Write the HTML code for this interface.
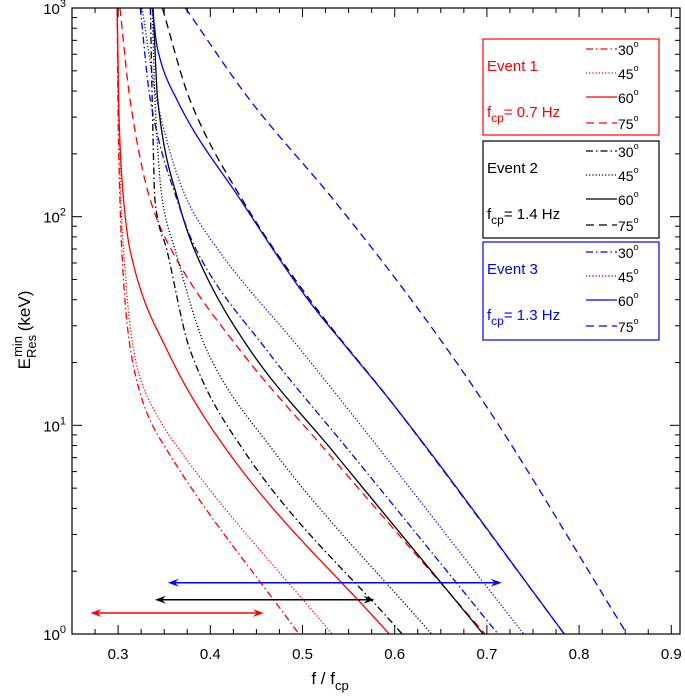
<!DOCTYPE html>
<html><head><meta charset="utf-8"><style>
body{margin:0;background:#fff;}
svg{display:block;font-family:"Liberation Sans",sans-serif;}
</style></head><body>
<svg id="chart" width="685" height="698" viewBox="0 0 685 698" xmlns="http://www.w3.org/2000/svg"></svg>
<script>
const xTicks=[0.3,0.4,0.5,0.6,0.7,0.8,0.9];
const xTickLabels=["0.3","0.4","0.5","0.6","0.7","0.8","0.9"];
const yDecades=[0,1,2,3];
// each series: [f/fcp, E keV]
const red30=[[0.299,1000],[0.300,300],[0.302,120],[0.304,69],[0.310,30],[0.318,18],[0.333,11],[0.353,7.6],[0.496,1]];
const red45=[[0.299,1000],[0.301,300],[0.303,120],[0.306,69],[0.313,30],[0.322,18],[0.343,11],[0.367,7.6],[0.532,1]];
const red60=[[0.299,1000],[0.301,300],[0.306,120],[0.313,69],[0.353,23],[0.418,7.6],[0.594,1]];
const red75=[[0.302,1000],[0.313,362],[0.335,120],[0.358,69],[0.432,23],[0.525,7.6],[0.698,1]];
const blk30=[[0.335,1000],[0.337,362],[0.34,120],[0.353,69],[0.378,23],[0.436,7.6],[0.608,1]];
const blk45=[[0.337,1000],[0.34,362],[0.348,120],[0.362,69],[0.396,23],[0.468,7.6],[0.64,1]];
const blk60=[[0.338,1000],[0.343,362],[0.365,120],[0.383,69],[0.443,23],[0.532,7.6],[0.696,1]];
const blk75=[[0.348,1000],[0.378,362],[0.435,120],[0.508,40],[0.596,13],[0.784,1]];
const blu30=[[0.324,1000],[0.335,362],[0.364,120],[0.385,69],[0.461,23],[0.55,7.6],[0.712,1]];
const blu45=[[0.326,1000],[0.342,362],[0.375,120],[0.409,69],[0.498,23],[0.74,1]];
const blu60=[[0.337,1000],[0.343,630],[0.364,362],[0.433,120],[0.506,40],[0.55,23],[0.596,13],[0.784,1]];
const blu75=[[0.373,1000],[0.443,362],[0.534,120],[0.618,40],[0.696,13],[0.852,1]];
const arrowRanges=[[0.354,0.716,1.76],[0.34,0.578,1.46],[0.27,0.458,1.26]];
const arrowColors=["#0000ff","#000","#ff0000"];

const L=72,R=680,T=8,B=634,X0=0.25,PX_PER=922;
const sx=v=>L+(v-X0)*PX_PER;
const sy=v=>B-Math.log10(v)/3*(B-T);
const syLog=le=>B-le/3*(B-T);
const svg=document.getElementById('chart');
const NS="http://www.w3.org/2000/svg";
function el(tag,attrs,parent){const e=document.createElementNS(NS,tag);for(const k in attrs)e.setAttribute(k,attrs[k]);(parent||svg).appendChild(e);return e;}
const defs=el('defs',{});
const clip=el('clipPath',{id:'pc'},defs);el('rect',{x:L,y:T,width:R-L,height:B-T},clip);

// monotone cubic: log10(E) as function of x
function monoPath(data){
 const pts=data.map(p=>[p[0],Math.log10(p[1])]).sort((a,b)=>a[0]-b[0]);
 const n=pts.length,h=[],d=[],m=[];
 for(let i=0;i<n-1;i++){h[i]=pts[i+1][0]-pts[i][0];d[i]=(pts[i+1][1]-pts[i][1])/h[i];}
 m[0]=d[0];m[n-1]=d[n-2];
 for(let i=1;i<n-1;i++){m[i]=(d[i-1]*d[i]<=0)?0:(h[i-1]+h[i])*3/((2*h[i]+h[i-1])/d[i-1]+(h[i]+2*h[i-1])/d[i]);}
 let s="";
 for(let i=0;i<n-1;i++){
  for(let k=0;k<=30;k++){
   if(i>0&&k===0)continue;
   const t=k/30,t2=t*t,t3=t2*t,hh=h[i];
   const y=(2*t3-3*t2+1)*pts[i][1]+(t3-2*t2+t)*hh*m[i]+(-2*t3+3*t2)*pts[i+1][1]+(t3-t2)*hh*m[i+1];
   const x=pts[i][0]+t*hh;
   s+=(s?" L":"M")+sx(x).toFixed(2)+","+syLog(y).toFixed(2);
  }
 }
 return s;
}
const dash={"30":"7,3,1.5,3","45":"1.2,2","60":"","75":"8,5"};
const series=[["red",red30,"30","#ff0000"],["red",red45,"45","#ff0000"],["red",red60,"60","#ff0000"],["red",red75,"75","#ff0000"],
["black",blk30,"30","#000"],["black",blk45,"45","#000"],["black",blk60,"60","#000"],["black",blk75,"75","#000"],
["blue",blu30,"30","#0000ff"],["blue",blu45,"45","#0000ff"],["blue",blu60,"60","#0000ff"],["blue",blu75,"75","#0000ff"]];
const g=el('g',{'clip-path':'url(#pc)'});
series.forEach(s=>{
 const p=el('path',{d:monoPath(s[1]),fill:'none',stroke:s[3],'stroke-width':1.3,'stroke-dasharray':dash[s[2]]},g);
 
 
});
// arrows
arrowRanges.forEach((a,i)=>{
 const y=sy(a[2]),x1=Math.max(sx(a[0]),L+16),x2=sx(a[1]),c=arrowColors[i];
 const ag=el('g',{});
 
 
 el('line',{x1:x1+4,y1:y,x2:x2-4,y2:y,stroke:c,'stroke-width':1.5},ag);
 el('path',{d:`M${x1},${y} L${x1+11},${y-4} L${x1+7},${y} L${x1+11},${y+4}Z`,fill:c},ag);
 el('path',{d:`M${x2},${y} L${x2-11},${y-4} L${x2-7},${y} L${x2-11},${y+4}Z`,fill:c},ag);
});
// axes frame
el('rect',{x:L,y:T,width:R-L,height:B-T,fill:'none',stroke:'#000','stroke-width':1.2,});
// x ticks
for(let k=0;k<=26;k++){
 const v=0.25+k*0.025;const x=sx(v);if(x>R)break;const major=(k%4)==2;const len=major?9:5;
 el('line',{x1:x,y1:B,x2:x,y2:B-len,stroke:'#000'});el('line',{x1:x,y1:T,x2:x,y2:T+len,stroke:'#000'});
}
xTicks.forEach((v,i)=>{const t=el('text',{x:sx(v),y:B+25,'text-anchor':'middle','font-size':15});t.textContent=xTickLabels[i];
 });
// y ticks
yDecades.forEach(d=>{
 const y=sy(Math.pow(10,d));
 el('line',{x1:L,y1:y,x2:L+10,y2:y,stroke:'#000'});el('line',{x1:R,y1:y,x2:R-10,y2:y,stroke:'#000'});
 const t=el('text',{x:L-6,y:y+6,'text-anchor':'end','font-size':15});
 
 t.innerHTML='10<tspan dy="-7" font-size="11">'+d+'</tspan>';
 if(d<3)for(let m=2;m<=9;m++){const yy=sy(m*Math.pow(10,d));el('line',{x1:L,y1:yy,x2:L+5,y2:yy,stroke:'#000'});el('line',{x1:R,y1:yy,x2:R-5,y2:yy,stroke:'#000'});}
});
// axis titles
const xt=el('text',{x:330,y:684,'text-anchor':'middle','font-size':17,});
xt.innerHTML='f / f<tspan dy="6" font-size="13">cp</tspan>';
const yt=el('text',{transform:'translate(30,330) rotate(-90)','text-anchor':'middle','font-size':17,});
yt.innerHTML='E<tspan dy="6" font-size="13">Res</tspan><tspan dx="-22" dy="-14" font-size="13">min</tspan><tspan dy="8"> (keV)</tspan>';
// legend
const boxes=[[39,135,"#ff0000","Event 1","0.7"],[141,238,"#000","Event 2","1.4"],[242,340,"#0000ff","Event 3","1.3"]];
boxes.forEach((b,i)=>{
 const lg=el('g',{});
 
 
 el('rect',{x:483,y:b[0],width:176,height:b[1]-b[0],fill:'#fff',stroke:b[2],'stroke-width':1.2},lg);
 const t1=el('text',{x:487,y:b[0]+32,'font-size':15,fill:b[2]},lg);t1.textContent=b[3];
 const t2=el('text',{x:487,y:b[0]+78,'font-size':15,fill:b[2]},lg);
 t2.innerHTML='f<tspan dy="5" font-size="12">cp</tspan><tspan dy="-5">= '+b[4]+' Hz</tspan>';
 ["30","45","60","75"].forEach((a,j)=>{
  const yy=b[0]+[10,34,58,84][j];
  el('line',{x1:586,y1:yy,x2:617,y2:yy,stroke:b[2],'stroke-width':1.2,'stroke-dasharray':dash[a]},lg);
  const tt=el('text',{x:618,y:yy+6,'font-size':14},lg);
  tt.innerHTML=a+'<tspan dy="-8" font-size="9">o</tspan>';
 });
});
</script>
</body></html>
